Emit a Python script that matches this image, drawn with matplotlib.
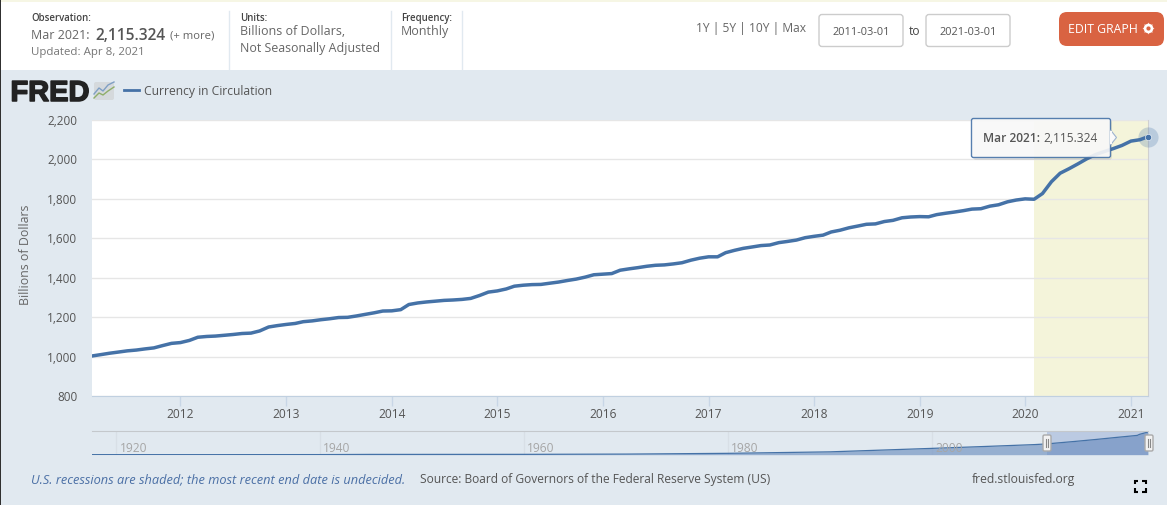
import matplotlib
matplotlib.use("Agg")
import matplotlib.pyplot as plt
import matplotlib.patheffects as pe
from matplotlib.patches import FancyBboxPatch, Rectangle, Polygon
import pandas as pd

plt.rcParams['font.family'] = ['Open Sans', 'DejaVu Sans']

# ---- data ----
start_date = "2011-03-01"
series_name = "Currency in Circulation"
values = [
    1003, 1010, 1017, 1023, 1029, 1033, 1039, 1044, 1056, 1067,
    1071, 1082, 1098, 1102, 1104, 1108, 1112, 1117, 1119, 1130,
    1150, 1157, 1163, 1168, 1177, 1181, 1187, 1192, 1198, 1199,
    1206, 1214, 1222, 1231, 1232, 1238, 1264, 1272, 1277, 1281,
    1285, 1287, 1290, 1295, 1310, 1327, 1333, 1343, 1357, 1362,
    1365, 1366, 1372, 1378, 1386, 1393, 1403, 1415, 1418, 1421,
    1438, 1445, 1451, 1458, 1463, 1465, 1470, 1476, 1489, 1499,
    1506, 1506, 1527, 1539, 1549, 1556, 1563, 1566, 1578, 1584,
    1591, 1603, 1610, 1616, 1632, 1641, 1653, 1662, 1671, 1673,
    1685, 1691, 1704, 1708, 1710, 1709, 1720, 1727, 1733, 1740,
    1748, 1750, 1763, 1770, 1785, 1794, 1800, 1798, 1827, 1887,
    1930, 1953, 1977, 2003, 2025, 2040, 2055, 2071, 2093, 2100,
    2115.324,
]
y_ticks = [800, 1000, 1200, 1400, 1600, 1800, 2000, 2200]
x_years = list(range(2012, 2022))
recession_start = "2020-02-01"
recession_end = "2021-03-01"

nav_years = [1917.6, 1920, 1930, 1940, 1945, 1950, 1960, 1970, 1980, 1990,
             2000, 2005, 2010, 2011.2, 2012, 2014, 2016, 2018, 2020.1, 2020.3, 2021.15]
nav_values = [4, 5, 5, 9, 27, 27, 32, 57, 127, 266,
              590, 760, 940, 1003, 1071, 1238, 1415, 1605, 1798, 1890, 2115]
nav_ticks = [1920, 1940, 1960, 1980, 2000]

# ---- colours ----
BG = "#e1e9f0"
BLUE = "#4572a7"
BTN = "#d96342"

W, H = 1167, 505
fig = plt.figure(figsize=(W / 100, H / 100), dpi=100, facecolor=BG)


def px_axes(z):
    a = fig.add_axes([0, 0, 1, 1], zorder=z)
    a.set_xlim(0, W)
    a.set_ylim(H, 0)
    a.axis("off")
    a.patch.set_alpha(0)
    return a


def pos(x0, x1, y0, y1):
    return [x0 / W, 1 - y1 / H, (x1 - x0) / W, (y1 - y0) / H]


back = px_axes(0)
front = px_axes(10)


def T(x, y, s, px=12, color="#555555", ha="left", ax=front, **kw):
    ax.text(x, y, s, fontsize=px * 0.72, color=color, ha=ha, va="center_baseline", **kw)


# ---- page furniture ----
back.add_patch(Rectangle((0, 0), W, 70, fc="white", ec="none"))
back.add_patch(Rectangle((0, 0), W, 1.5, fc="#f6f6e4", ec="none"))
back.add_patch(Rectangle((0, 0), 1, H, fc="#303030", ec="none", zorder=5))
for xs in (228.5, 390.5, 461.5):
    back.plot([xs, xs], [11, 70], color=BG, lw=1)

T(31, 17, "Observation:", 9.7, "#444444", weight=600)
T(31, 34, "Mar 2021:", 12.5, "#666666")
T(95, 33.5, "2,115.324", 15.5, "#555555", weight=600)
T(170, 34, "(+ more)", 11.2, "#666666")
T(31, 51, "Updated: Apr 8, 2021", 11.5, "#777777")
T(240, 17, "Units:", 9.7, "#444444", weight=600)
T(240, 30, "Billions of Dollars,", 12.5, "#666666")
T(240, 47, "Not Seasonally Adjusted", 12.4, "#666666")
T(401, 17, "Frequency:", 9.7, "#444444", weight=600)
T(401, 30, "Monthly", 12.5, "#666666")
T(696, 27, "1Y | 5Y | 10Y | Max", 12, "#666666")
for x0, s in ((819, "2011-03-01"), (926, "2021-03-01")):
    back.add_patch(FancyBboxPatch((x0, 14.5), 84, 32, boxstyle="round,pad=0,rounding_size=3",
                                  fc="white", ec="#cccccc", lw=1))
    T(x0 + 42, 31, s, 11, "#555555", ha="center")
T(915, 30, "to", 12, "#444444", ha="center")
back.add_patch(FancyBboxPatch((1059, 12), 105, 34, boxstyle="round,pad=0,rounding_size=8",
                              fc=BTN, ec="none"))
T(1068, 28, "EDIT GRAPH", 12.3, "white")
front.scatter([1148], [28], s=75, marker=(8, 1, 0), color="white", lw=0)
front.scatter([1148], [28], s=48, marker="o", color="white", lw=0)
front.scatter([1148], [28], s=9, marker="o", color=BTN, lw=0)

# logo
front.text(10.5, 101, "FRED", fontsize=29 * 0.72, color="#222222", family="Liberation Sans",
           weight="bold", va="baseline",
           path_effects=[pe.withStroke(linewidth=1.1, foreground="#222222")])
back.add_patch(FancyBboxPatch((94, 82), 20, 18, boxstyle="round,pad=0,rounding_size=2",
                              fc="#d5d9dc", ec="none"))
back.plot([94, 99, 103, 108, 114], [94, 88, 91, 85, 82], color="#7f9fc4", lw=1)
back.plot([94, 99, 103, 108, 114], [98, 93, 95, 91, 87], color="#8fae6a", lw=1)

# legend
back.plot([124, 139], [90, 90], color=BLUE, lw=2)
T(144, 90.5, series_name, 12.1, "#555555")

# footer
T(31, 478.5, "U.S. recessions are shaded; the most recent end date is undecided.", 12.8,
  "#4a6fa5", style="italic")
T(420, 478.5, "Source: Board of Governors of the Federal Reserve System (US)", 12.0)
T(972, 478.5, "fred.stlouisfed.org", 12.1)
for cx, cy, dx, dy in ((1134.5, 480.5, 1, 1), (1145.5, 480.5, -1, 1),
                       (1134.5, 491.5, 1, -1), (1145.5, 491.5, -1, -1)):
    back.plot([cx + 3.5 * dx, cx, cx], [cy, cy, cy + 3.5 * dy], color="black", lw=1.5,
              solid_capstyle="butt", solid_joinstyle="miter")

# ---- main chart ----
dates = pd.date_range(start_date, periods=len(values), freq="MS")
ax = fig.add_axes(pos(92, 1148, 120, 396), zorder=2)
ax.set_facecolor("white")
ax.set_xlim(dates[0], dates[-1])
ax.set_ylim(y_ticks[0], y_ticks[-1])
ax.axvspan(pd.Timestamp(recession_start), pd.Timestamp(recession_end), color="#f4f4da", lw=0, zorder=1)
ax.set_yticks(y_ticks)
ax.set_yticklabels([f"{v:,}" for v in y_ticks], fontsize=11.7 * 0.72, color="#555555")
ax.set_xticks([pd.Timestamp(f"{y}-01-01") for y in x_years])
ax.set_xticklabels([str(y) for y in x_years], fontsize=12 * 0.72, color="#555555")
ax.grid(axis="y", color="#e6e6e6", lw=1, zorder=2)
ax.tick_params(axis="y", length=0, pad=10.5)
ax.tick_params(axis="x", length=7, width=1, color="#c8d6e6", pad=2)
for s in ("top", "left"):
    ax.spines[s].set_visible(False)
ax.spines["right"].set_color("#d0d0d0")
ax.spines["bottom"].set_color("#c0d0e0")
ax.set_ylabel("Billions of Dollars", fontsize=12.4 * 0.72, color="#666666")
ax.yaxis.set_label_coords((32 - 92) / 1056, 0.51)
ax.plot(dates, values, color=BLUE, lw=2.5, zorder=3, solid_joinstyle="round")

# ---- highlighted point and tooltip ----
ax.plot(dates[-1], values[-1], "o", ms=14.5, mfc=BLUE, mec="none", alpha=0.25, clip_on=False, zorder=6)
ax.plot(dates[-1], values[-1], "o", ms=4.5, mfc=BLUE, mec="white", mew=0.4, clip_on=False, zorder=7)

front.add_patch(FancyBboxPatch((973, 120), 139, 40, boxstyle="round,pad=0,rounding_size=3",
                               fc="#555555", ec="none", alpha=0.12))
front.add_patch(FancyBboxPatch((971.5, 118.5), 139, 39, boxstyle="round,pad=0,rounding_size=2",
                               fc="#fafafa", ec=BLUE, lw=1, alpha=0.9))
front.add_patch(Polygon([[1110.5, 130], [1116.5, 137.5], [1110.5, 145]], closed=True,
                        fc="#fafafa", ec="#9db3cf", lw=0.8))
front.add_patch(Rectangle((1109.5, 131), 2, 13, fc="#fafafa", ec="none"))
T(983, 137.5, "Mar 2021:", 12, "#555555", weight=600)
T(1043, 137.5, "2,115.324", 12, "#555555")

# ---- navigator ----
nav = fig.add_axes(pos(92, 1148, 431, 454.7), zorder=3)
nav.patch.set_alpha(0)
nav.set_xlim(nav_years[0], 2021.15)
nav.set_ylim(0, max(nav_values) * 23.7 / 22.7)
nav.fill_between(nav_years, nav_values, 0, color="#7d9cc6", alpha=0.75, lw=0)
nav.plot(nav_years, nav_values, color=BLUE, lw=0.9)
nav.set_xticks(nav_ticks)
nav.set_xticklabels([])
nav.set_yticks([])
nav.grid(axis="x", color="#d8dfe6", lw=1)
nav.set_axisbelow(True)
nav.tick_params(axis="x", length=0)
for s in ("left", "right", "bottom"):
    nav.spines[s].set_visible(False)
nav.spines["top"].set_color("#c4c8cc")
nav.axvspan(nav_years[13], nav_years[-1], color="#6685c2", alpha=0.3, lw=0)
for yr in nav_ticks:
    px = 92 + (yr - nav_years[0]) / (2021.15 - nav_years[0]) * 1056
    T(px + 3, 446.5, str(yr), 12, "#a6a6a6")
for x0 in (1043, 1145):
    front.add_patch(FancyBboxPatch((x0, 435), 8, 16, boxstyle="round,pad=0,rounding_size=1.5",
                                   fc="#f2f2f2", ec="#aaaaaa", lw=1))
    front.plot([x0 + 3, x0 + 3], [439, 447], color="#888888", lw=0.8)
    front.plot([x0 + 5, x0 + 5], [439, 447], color="#888888", lw=0.8)

fig.savefig("out.png", dpi=100, facecolor=BG)
